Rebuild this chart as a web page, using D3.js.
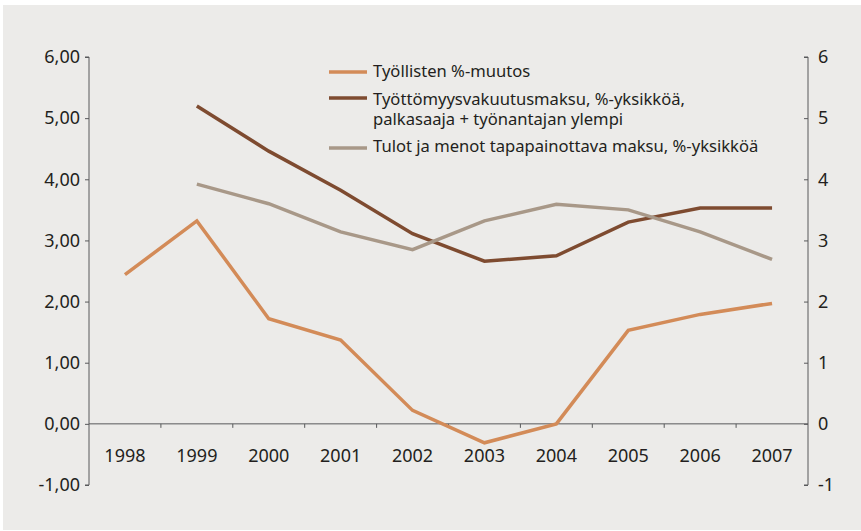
<!DOCTYPE html>
<html>
<head>
<meta charset="utf-8">
<script src="https://d3js.org/d3.v7.min.js"></script>
<style>
  body { margin: 0; background: white; }
  text { font-family: "Noto Sans", sans-serif; fill: #231f20; }
</style>
</head>
<body>
<svg id="MainSVG" width="861" height="531"></svg>
<script>
// data
var years = ["1998","1999","2000","2001","2002","2003","2004","2005","2006","2007"];
var tyollisten = [2.44, 3.32, 1.72, 1.37, 0.22, -0.31, 0.00, 1.53, 1.79, 1.97];
var vakuutusmaksu = [null, 5.20, 4.46, 3.82, 3.11, 2.66, 2.75, 3.30, 3.53, 3.53];
var tapamaksu = [null, 3.92, 3.60, 3.14, 2.85, 3.32, 3.59, 3.50, 3.14, 2.69];
var leftTicks = [-1, 0, 1, 2, 3, 4, 5, 6];
var rightTicks = [-1, 0, 1, 2, 3, 4, 5, 6];
var seriesNames = ["Työllisten %-muutos",
                   ["Työttömyysvakuutusmaksu, %-yksikköä,", "palkasaaja + työnantajan ylempi"],
                   "Tulot ja menot tapapainottava maksu, %-yksikköä"];
var colors = ["#d38b58", "#7e4b30", "#a89888"];

var svg = d3.select("#MainSVG");

// background panel
svg.append("rect")
  .attr("x", 3).attr("y", 5)
  .attr("width", 858).attr("height", 525)
  .attr("fill", "#ecebe9")
  .style("stroke", "none");

var x0 = 89, x1 = 808;
var xs = d3.scaleBand().domain(years).range([x0, x1]);
var ys = d3.scaleLinear().domain([-1, 6]).range([485, 57]);

var axisColor = "#58595b";

// left axis
var gl = svg.append("g").attr("transform", "translate(" + x0 + ",0)");
gl.call(d3.axisLeft(ys).tickValues(leftTicks).tickSize(4).tickPadding(5)
    .tickFormat(function(d){ return d.toFixed(2).replace(".", ","); }));
gl.selectAll("path, line").attr("stroke", axisColor);
gl.select(".domain").attr("d", "M-4," + ys(-1) + "H0V" + ys(6) + "H-4");
gl.selectAll("text").style("font-size", "18px").attr("fill", "#231f20");

// right axis
var gr = svg.append("g").attr("transform", "translate(" + x1 + ",0)");
gr.call(d3.axisRight(ys).tickValues(rightTicks).tickSize(-4).tickPadding(10)
    .tickFormat(function(d){ return String(d); }));
gr.selectAll("path, line").attr("stroke", axisColor);
gr.select(".domain").attr("d", "M-4," + ys(-1) + "H0V" + ys(6) + "H-4");
gr.selectAll("text").style("font-size", "18px").attr("fill", "#231f20");

// x axis at zero
var gx = svg.append("g").attr("transform", "translate(0," + ys(0) + ")");
gx.append("line")
  .attr("x1", x0).attr("x2", x1)
  .attr("stroke", axisColor);
gx.selectAll(".sep")
  .data(years.slice(1))
  .enter().append("line")
  .attr("class", "sep")
  .attr("x1", function(d){ return xs(d); })
  .attr("x2", function(d){ return xs(d); })
  .attr("y1", 0).attr("y2", 4)
  .attr("stroke", axisColor);
gx.selectAll(".lab")
  .data(years)
  .enter().append("text")
  .attr("class", "lab")
  .attr("x", function(d){ return xs(d) + xs.bandwidth() / 2; })
  .attr("y", 38)
  .attr("text-anchor", "middle")
  .style("font-size", "18px")
  .text(function(d){ return d; });

// lines
var line = d3.line()
  .defined(function(d){ return d.v != null; })
  .x(function(d){ return xs(d.year) + xs.bandwidth() / 2; })
  .y(function(d){ return ys(d.v); });

[tyollisten, vakuutusmaksu, tapamaksu].forEach(function(vals, i){
  var pts = years.map(function(y, k){ return {year: y, v: vals[k]}; });
  svg.append("path")
    .datum(pts)
    .attr("d", line)
    .attr("fill", "none")
    .attr("stroke", colors[i])
    .attr("stroke-width", 3.5)
    .attr("stroke-linejoin", "miter");
});

// legend (wrapped entry drawn as one text with tspans)
var legendY = [72, 98, 148];
var textY = [77, 105, 152];
var lg = svg.append("g");
seriesNames.forEach(function(name, i){
  lg.append("line")
    .attr("x1", 329).attr("x2", 367)
    .attr("y1", legendY[i]).attr("y2", legendY[i])
    .attr("stroke", colors[i])
    .attr("stroke-width", 3.5);
  var lines = Array.isArray(name) ? name : [name];
  var t = lg.append("text")
    .attr("x", 373)
    .attr("y", textY[i])
    .style("font-size", "16.6px");
  lines.forEach(function(s, j){
    t.append("tspan")
      .attr("x", 373)
      .attr("dy", j == 0 ? 0 : 20)
      .text(s);
  });
});
</script>
</body>
</html>
